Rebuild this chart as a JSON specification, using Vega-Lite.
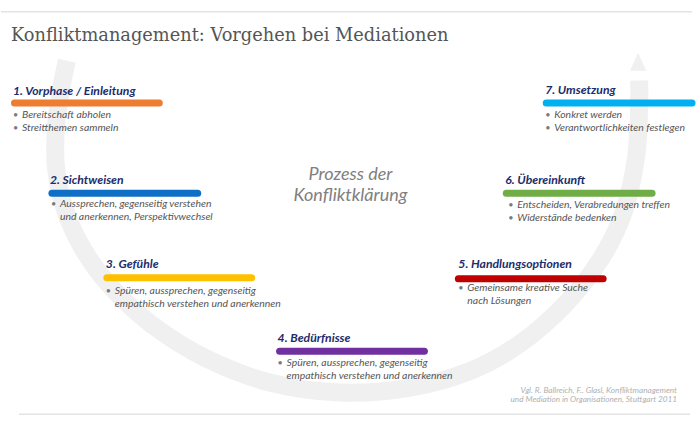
{
  "$schema": "https://vega.github.io/schema/vega-lite/v6.json",
  "width": 700,
  "height": 429,
  "autosize": {"type": "fit", "contains": "padding"},
  "padding": 0,
  "background": "white",
  "config": {"view": {"stroke": null}},
  "datasets": {
    "frame": [
      {"line": "top", "x": 0, "x2": 692, "y": 12},
      {"line": "bottom", "x": 18, "x2": 690, "y": 422}
    ],
    "arc": [
      {"i": 1, "x": 66, "y": 62},
      {"i": 2, "x": 60, "y": 92},
      {"i": 3, "x": 55, "y": 130},
      {"i": 4, "x": 55, "y": 170},
      {"i": 5, "x": 63, "y": 210},
      {"i": 6, "x": 80, "y": 250},
      {"i": 7, "x": 108, "y": 290},
      {"i": 8, "x": 150, "y": 330},
      {"i": 9, "x": 205, "y": 365},
      {"i": 10, "x": 270, "y": 390},
      {"i": 11, "x": 340, "y": 400},
      {"i": 12, "x": 410, "y": 395},
      {"i": 13, "x": 470, "y": 378},
      {"i": 14, "x": 520, "y": 350},
      {"i": 15, "x": 565, "y": 310},
      {"i": 16, "x": 600, "y": 265},
      {"i": 17, "x": 624, "y": 215},
      {"i": 18, "x": 636, "y": 160},
      {"i": 19, "x": 639, "y": 110},
      {"i": 20, "x": 639, "y": 82}
    ],
    "tip": [{"x": 638, "y": 63}],
    "bars": [
      {"step": "1", "x": 13.5, "x2": 158.5, "y": 105},
      {"step": "2", "x": 51, "x2": 197, "y": 197},
      {"step": "3", "x": 106, "x2": 251, "y": 283},
      {"step": "4", "x": 279, "x2": 424, "y": 358},
      {"step": "5", "x": 458, "x2": 603, "y": 284},
      {"step": "6", "x": 506, "x2": 652, "y": 197},
      {"step": "7", "x": 546, "x2": 692, "y": 105}
    ],
    "heads": [
      {"step": "1", "x": 12, "y": 97, "text": "1. Vorphase / Einleitung"},
      {"step": "2", "x": 49, "y": 188, "text": "2. Sichtweisen"},
      {"step": "3", "x": 105, "y": 273, "text": "3. Gefühle"},
      {"step": "4", "x": 277, "y": 349, "text": "4. Bedürfnisse"},
      {"step": "5", "x": 458, "y": 273, "text": "5. Handlungsoptionen"},
      {"step": "6", "x": 505, "y": 187, "text": "6. Übereinkunft"},
      {"step": "7", "x": 545, "y": 96, "text": "7. Umsetzung"}
    ],
    "body": [
      {"step": "1", "x": 21, "y": 120, "bullet": true, "text": "Bereitschaft abholen"},
      {"step": "1", "x": 21, "y": 133, "bullet": true, "text": "Streitthemen sammeln"},
      {"step": "2", "x": 59, "y": 211, "bullet": true, "text": "Aussprechen, gegenseitig verstehen"},
      {"step": "2", "x": 59, "y": 224, "bullet": false, "text": "und anerkennen, Perspektivwechsel"},
      {"step": "3", "x": 114, "y": 300, "bullet": true, "text": "Spüren, aussprechen, gegenseitig"},
      {"step": "3", "x": 114, "y": 313, "bullet": false, "text": "empathisch verstehen und anerkennen"},
      {"step": "4", "x": 286, "y": 373, "bullet": true, "text": "Spüren, aussprechen, gegenseitig"},
      {"step": "4", "x": 286, "y": 386, "bullet": false, "text": "empathisch verstehen und anerkennen"},
      {"step": "5", "x": 467, "y": 297, "bullet": true, "text": "Gemeinsame kreative Suche"},
      {"step": "5", "x": 467, "y": 310, "bullet": false, "text": "nach Lösungen"},
      {"step": "6", "x": 517, "y": 212, "bullet": true, "text": "Entscheiden, Verabredungen treffen"},
      {"step": "6", "x": 517, "y": 225, "bullet": true, "text": "Widerstände bedenken"},
      {"step": "7", "x": 554, "y": 120, "bullet": true, "text": "Konkret werden"},
      {"step": "7", "x": 554, "y": 133, "bullet": true, "text": "Verantwortlichkeiten festlegen"}
    ],
    "labels": [
      {"kind": "title", "x": 10, "y": 42, "text": "Konfliktmanagement: Vorgehen bei Mediationen"},
      {"kind": "center", "x": 350, "y": 183, "text": "Prozess der"},
      {"kind": "center", "x": 350, "y": 205, "text": "Konfliktklärung"},
      {"kind": "cite", "x": 677, "y": 400, "text": "Vgl. R. Ballreich, F.. Glasl, Konfliktmanagement"},
      {"kind": "cite", "x": 677, "y": 410, "text": "und Mediation in Organisationen, Stuttgart 2011"}
    ]
  },
  "layer": [
    {
      "data": {"name": "frame"},
      "mark": {"type": "rule", "color": "#e3e3e3", "strokeWidth": 1.5},
      "encoding": {
        "x": {"field": "x", "type": "quantitative", "scale": {"domain": [0, 700], "nice": false, "zero": false}, "axis": null},
        "x2": {"field": "x2"},
        "y": {"field": "y", "type": "quantitative", "scale": {"domain": [0, 429], "reverse": true, "nice": false, "zero": false}, "axis": null}
      }
    },
    {
      "data": {"name": "arc"},
      "mark": {"type": "line", "color": "#f0f0f0", "strokeWidth": 18, "interpolate": "cardinal", "strokeCap": "butt"},
      "encoding": {
        "x": {"field": "x", "type": "quantitative", "scale": {"domain": [0, 700], "nice": false, "zero": false}, "axis": null},
        "y": {"field": "y", "type": "quantitative", "scale": {"domain": [0, 429], "reverse": true, "nice": false, "zero": false}, "axis": null},
        "order": {"field": "i", "type": "quantitative"}
      }
    },
    {
      "data": {"name": "tip"},
      "mark": {"type": "point", "shape": "M-0.45,0.5L0,-0.5L0.45,0.5Z", "size": 1296, "filled": true, "color": "#f0f0f0", "opacity": 1, "strokeWidth": 0},
      "encoding": {
        "x": {"field": "x", "type": "quantitative", "scale": {"domain": [0, 700], "nice": false, "zero": false}, "axis": null},
        "y": {"field": "y", "type": "quantitative", "scale": {"domain": [0, 429], "reverse": true, "nice": false, "zero": false}, "axis": null}
      }
    },
    {
      "data": {"name": "bars"},
      "mark": {"type": "rule", "strokeWidth": 7, "strokeCap": "round"},
      "encoding": {
        "x": {"field": "x", "type": "quantitative", "scale": {"domain": [0, 700], "nice": false, "zero": false}, "axis": null},
        "x2": {"field": "x2"},
        "y": {"field": "y", "type": "quantitative", "scale": {"domain": [0, 429], "reverse": true, "nice": false, "zero": false}, "axis": null},
        "color": {"field": "step", "type": "nominal", "legend": null, "scale": {"domain": ["1", "2", "3", "4", "5", "6", "7"], "range": ["#ED7D31", "#0F6FC6", "#FFC000", "#7030A0", "#C00000", "#70AD47", "#00B0F0"]}}
      }
    },
    {
      "data": {"name": "heads"},
      "mark": {"type": "text", "align": "left", "baseline": "alphabetic", "font": "Lato", "fontWeight": "bold", "fontStyle": "italic", "fontSize": 12.2, "color": "#1B2D6B"},
      "encoding": {
        "x": {"field": "x", "type": "quantitative", "scale": {"domain": [0, 700], "nice": false, "zero": false}, "axis": null},
        "y": {"field": "y", "type": "quantitative", "scale": {"domain": [0, 429], "reverse": true, "nice": false, "zero": false}, "axis": null},
        "text": {"field": "text"}
      }
    },
    {
      "data": {"name": "body"},
      "mark": {"type": "text", "align": "left", "baseline": "alphabetic", "font": "Lato", "fontStyle": "italic", "fontSize": 10.4, "color": "#555555"},
      "encoding": {
        "x": {"field": "x", "type": "quantitative", "scale": {"domain": [0, 700], "nice": false, "zero": false}, "axis": null},
        "y": {"field": "y", "type": "quantitative", "scale": {"domain": [0, 429], "reverse": true, "nice": false, "zero": false}, "axis": null},
        "text": {"field": "text"}
      }
    },
    {
      "data": {"name": "body"},
      "transform": [{"filter": "datum.bullet"}],
      "mark": {"type": "text", "align": "left", "baseline": "alphabetic", "font": "Lato", "fontSize": 9, "dx": -9, "color": "#7A7A7A", "text": "•"},
      "encoding": {
        "x": {"field": "x", "type": "quantitative", "scale": {"domain": [0, 700], "nice": false, "zero": false}, "axis": null},
        "y": {"field": "y", "type": "quantitative", "scale": {"domain": [0, 429], "reverse": true, "nice": false, "zero": false}, "axis": null}
      }
    },
    {
      "data": {"name": "labels"},
      "transform": [{"filter": "datum.kind === 'title'"}],
      "mark": {"type": "text", "align": "left", "baseline": "alphabetic", "font": "DejaVu Serif", "fontSize": 17.8, "color": "#555555"},
      "encoding": {
        "x": {"field": "x", "type": "quantitative", "scale": {"domain": [0, 700], "nice": false, "zero": false}, "axis": null},
        "y": {"field": "y", "type": "quantitative", "scale": {"domain": [0, 429], "reverse": true, "nice": false, "zero": false}, "axis": null},
        "text": {"field": "text"}
      }
    },
    {
      "data": {"name": "labels"},
      "transform": [{"filter": "datum.kind === 'center'"}],
      "mark": {"type": "text", "align": "center", "baseline": "alphabetic", "font": "Lato", "fontStyle": "italic", "fontSize": 18, "color": "#808080"},
      "encoding": {
        "x": {"field": "x", "type": "quantitative", "scale": {"domain": [0, 700], "nice": false, "zero": false}, "axis": null},
        "y": {"field": "y", "type": "quantitative", "scale": {"domain": [0, 429], "reverse": true, "nice": false, "zero": false}, "axis": null},
        "text": {"field": "text"}
      }
    },
    {
      "data": {"name": "labels"},
      "transform": [{"filter": "datum.kind === 'cite'"}],
      "mark": {"type": "text", "align": "right", "baseline": "alphabetic", "font": "Lato", "fontStyle": "italic", "fontSize": 8.2, "color": "#B0B0B0"},
      "encoding": {
        "x": {"field": "x", "type": "quantitative", "scale": {"domain": [0, 700], "nice": false, "zero": false}, "axis": null},
        "y": {"field": "y", "type": "quantitative", "scale": {"domain": [0, 429], "reverse": true, "nice": false, "zero": false}, "axis": null},
        "text": {"field": "text"}
      }
    }
  ]
}
